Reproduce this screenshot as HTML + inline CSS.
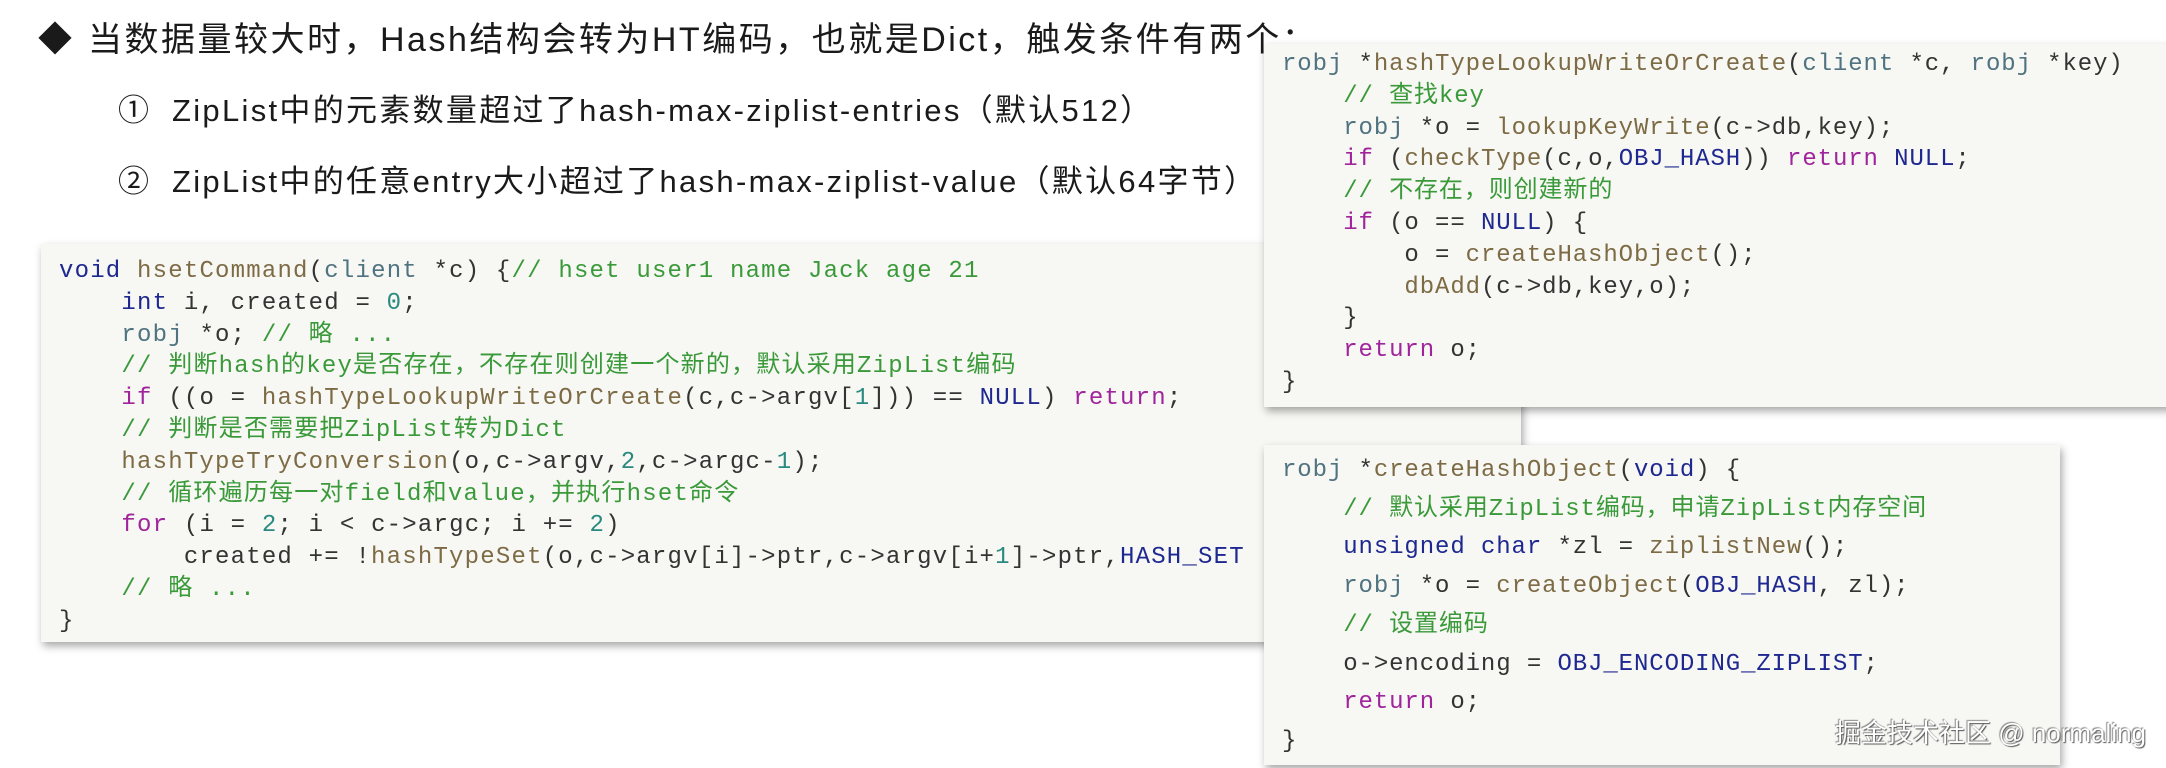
<!DOCTYPE html>
<html><head><meta charset="utf-8"><style>
html,body{margin:0;padding:0;background:#fff;width:2166px;height:768px;overflow:hidden;position:relative}
.t{position:absolute;font-family:"Liberation Sans","Noto Sans CJK SC",sans-serif;color:#1a1a1a;white-space:nowrap}
.box{position:absolute;background:#f7f7f3;box-shadow:2px 4px 8px rgba(0,0,0,0.35);}
.code{position:absolute;font-family:"Liberation Mono","Noto Sans CJK SC",monospace;font-size:24px;letter-spacing:1.2px;white-space:pre;color:#333;line-height:31.8px}
.k{color:#a0259c}.c{color:#3a9a3a}.f{color:#7d6b45}.ty{color:#4f7380}.n{color:#1e2890}.num{color:#2a8a80}
</style></head><body>
<div class="t" style="left:38px;top:12px;font-size:34px">◆</div>
<div class="t" style="left:88px;top:12px;font-size:34px;letter-spacing:2.5px">当数据量较大时，Hash结构会转为HT编码，也就是Dict，触发条件有两个：</div>
<div class="t" style="left:118px;top:85px;font-size:31px">①</div>
<div class="t" style="left:172px;top:85px;font-size:31px;letter-spacing:2.3px">ZipList中的元素数量超过了hash-max-ziplist-entries（默认512）</div>
<div class="t" style="left:118px;top:156px;font-size:31px">②</div>
<div class="t" style="left:172px;top:156px;font-size:31px;letter-spacing:2.3px">ZipList中的任意entry大小超过了hash-max-ziplist-value（默认64字节）</div>

<div class="box" style="left:41px;top:244px;width:1480px;height:398px"></div>
<div class="code" style="left:59px;top:256px"><span class="n">void</span> <span class="f">hsetCommand</span>(<span class="ty">client</span> *c) {<span class="c">// hset user1 name Jack age 21</span>
    <span class="n">int</span> i, created = <span class="num">0</span>;
    <span class="ty">robj</span> *o; <span class="c">// 略 ...</span>
    <span class="c">// 判断hash的key是否存在，不存在则创建一个新的，默认采用ZipList编码</span>
    <span class="k">if</span> ((o = <span class="f">hashTypeLookupWriteOrCreate</span>(c,c-&gt;argv[<span class="num">1</span>])) == <span class="n">NULL</span>) <span class="k">return</span>;
    <span class="c">// 判断是否需要把ZipList转为Dict</span>
    <span class="f">hashTypeTryConversion</span>(o,c-&gt;argv,<span class="num">2</span>,c-&gt;argc-<span class="num">1</span>);
    <span class="c">// 循环遍历每一对field和value，并执行hset命令</span>
    <span class="k">for</span> (i = <span class="num">2</span>; i &lt; c-&gt;argc; i += <span class="num">2</span>)
        created += !<span class="f">hashTypeSet</span>(o,c-&gt;argv[i]-&gt;ptr,c-&gt;argv[i+<span class="num">1</span>]-&gt;ptr,<span class="n">HASH_SET</span>
    <span class="c">// 略 ...</span>
}</div>

<div class="box" style="left:1264px;top:44px;width:910px;height:363px"></div>
<div class="code" style="left:1282px;top:49px;letter-spacing:0.9px"><span class="ty">robj</span> *<span class="f">hashTypeLookupWriteOrCreate</span>(<span class="ty">client</span> *c, <span class="ty">robj</span> *key)
    <span class="c">// 查找key</span>
    <span class="ty">robj</span> *o = <span class="f">lookupKeyWrite</span>(c-&gt;db,key);
    <span class="k">if</span> (<span class="f">checkType</span>(c,o,<span class="n">OBJ_HASH</span>)) <span class="k">return</span> <span class="n">NULL</span>;
    <span class="c">// 不存在，则创建新的</span>
    <span class="k">if</span> (o == <span class="n">NULL</span>) {
        o = <span class="f">createHashObject</span>();
        <span class="f">dbAdd</span>(c-&gt;db,key,o);
    }
    <span class="k">return</span> o;
}</div>

<div class="box" style="left:1264px;top:445px;width:796px;height:320px"></div>
<div class="code" style="left:1282px;top:452px;line-height:38.7px;letter-spacing:0.9px"><span class="ty">robj</span> *<span class="f">createHashObject</span>(<span class="n">void</span>) {
    <span class="c">// 默认采用ZipList编码，申请ZipList内存空间</span>
    <span class="n">unsigned char</span> *zl = <span class="f">ziplistNew</span>();
    <span class="ty">robj</span> *o = <span class="f">createObject</span>(<span class="n">OBJ_HASH</span>, zl);
    <span class="c">// 设置编码</span>
    o-&gt;encoding = <span class="n">OBJ_ENCODING_ZIPLIST</span>;
    <span class="k">return</span> o;
}</div>

<div class="t" style="left:1835px;top:713px;font-size:26px;color:#fff;text-shadow:1px 1px 1px #555,-1px -1px 1px #888">掘金技术社区 @ normaling</div>
</body></html>
